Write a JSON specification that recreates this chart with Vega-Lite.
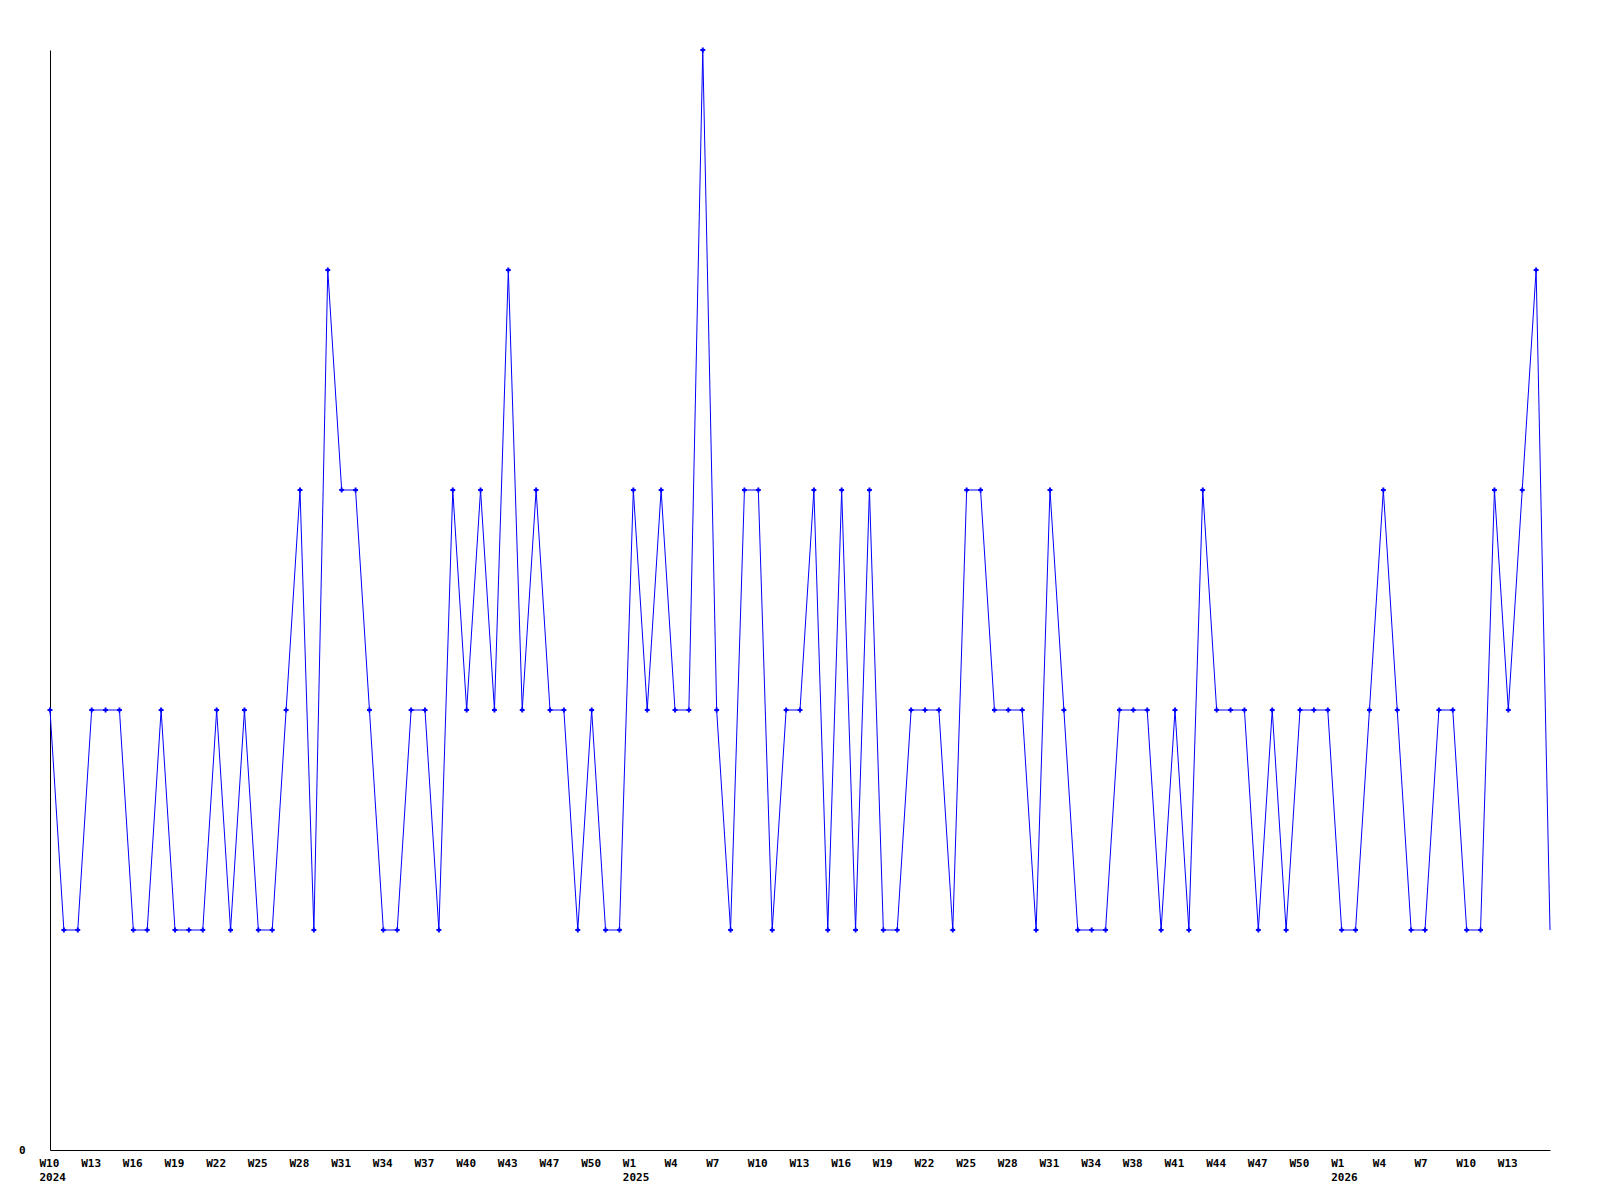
{
  "$schema": "https://vega.github.io/schema/vega-lite/v6.json",
  "width": 1500,
  "height": 1100,
  "autosize": {"type": "none"},
  "padding": {"left": 50, "top": 50, "right": 50, "bottom": 50},
  "background": "white",
  "config": {
    "view": {"stroke": null},
    "axis": {
      "grid": false,
      "ticks": false,
      "tickSize": 0,
      "domainColor": "#000000",
      "domainWidth": 1,
      "labelFont": "DejaVu Sans Mono",
      "labelFontWeight": "bold",
      "labelFontSize": 11,
      "labelColor": "#000000",
      "title": null
    }
  },
  "data": {
    "values": [
      {"week": "2024-W10", "count": 2}, {"week": "2024-W11", "count": 1}, {"week": "2024-W12", "count": 1},
      {"week": "2024-W13", "count": 2}, {"week": "2024-W14", "count": 2}, {"week": "2024-W15", "count": 2},
      {"week": "2024-W16", "count": 1}, {"week": "2024-W17", "count": 1}, {"week": "2024-W18", "count": 2},
      {"week": "2024-W19", "count": 1}, {"week": "2024-W20", "count": 1}, {"week": "2024-W21", "count": 1},
      {"week": "2024-W22", "count": 2}, {"week": "2024-W23", "count": 1}, {"week": "2024-W24", "count": 2},
      {"week": "2024-W25", "count": 1}, {"week": "2024-W26", "count": 1}, {"week": "2024-W27", "count": 2},
      {"week": "2024-W28", "count": 3}, {"week": "2024-W29", "count": 1}, {"week": "2024-W30", "count": 4},
      {"week": "2024-W31", "count": 3}, {"week": "2024-W32", "count": 3}, {"week": "2024-W33", "count": 2},
      {"week": "2024-W34", "count": 1}, {"week": "2024-W35", "count": 1}, {"week": "2024-W36", "count": 2},
      {"week": "2024-W37", "count": 2}, {"week": "2024-W38", "count": 1}, {"week": "2024-W39", "count": 3},
      {"week": "2024-W40", "count": 2}, {"week": "2024-W41", "count": 3}, {"week": "2024-W42", "count": 2},
      {"week": "2024-W43", "count": 4}, {"week": "2024-W44", "count": 2}, {"week": "2024-W45", "count": 3},
      {"week": "2024-W46", "count": 2}, {"week": "2024-W47", "count": 2}, {"week": "2024-W48", "count": 1},
      {"week": "2024-W49", "count": 2}, {"week": "2024-W50", "count": 1}, {"week": "2024-W51", "count": 1},
      {"week": "2024-W52", "count": 3},
      {"week": "2025-W01", "count": 2}, {"week": "2025-W02", "count": 3}, {"week": "2025-W03", "count": 2},
      {"week": "2025-W04", "count": 2}, {"week": "2025-W05", "count": 5}, {"week": "2025-W06", "count": 2},
      {"week": "2025-W07", "count": 1}, {"week": "2025-W08", "count": 3}, {"week": "2025-W09", "count": 3},
      {"week": "2025-W10", "count": 1}, {"week": "2025-W11", "count": 2}, {"week": "2025-W12", "count": 2},
      {"week": "2025-W13", "count": 3}, {"week": "2025-W14", "count": 1}, {"week": "2025-W15", "count": 3},
      {"week": "2025-W16", "count": 1}, {"week": "2025-W17", "count": 3}, {"week": "2025-W18", "count": 1},
      {"week": "2025-W19", "count": 1}, {"week": "2025-W20", "count": 2}, {"week": "2025-W21", "count": 2},
      {"week": "2025-W22", "count": 2}, {"week": "2025-W23", "count": 1}, {"week": "2025-W24", "count": 3},
      {"week": "2025-W25", "count": 3}, {"week": "2025-W26", "count": 2}, {"week": "2025-W27", "count": 2},
      {"week": "2025-W28", "count": 2}, {"week": "2025-W29", "count": 1}, {"week": "2025-W30", "count": 3},
      {"week": "2025-W31", "count": 2}, {"week": "2025-W32", "count": 1}, {"week": "2025-W33", "count": 1},
      {"week": "2025-W34", "count": 1}, {"week": "2025-W35", "count": 2}, {"week": "2025-W36", "count": 2},
      {"week": "2025-W37", "count": 2}, {"week": "2025-W38", "count": 1}, {"week": "2025-W39", "count": 2},
      {"week": "2025-W40", "count": 1}, {"week": "2025-W41", "count": 3}, {"week": "2025-W42", "count": 2},
      {"week": "2025-W43", "count": 2}, {"week": "2025-W44", "count": 2}, {"week": "2025-W45", "count": 1},
      {"week": "2025-W46", "count": 2}, {"week": "2025-W47", "count": 1}, {"week": "2025-W48", "count": 2},
      {"week": "2025-W49", "count": 2}, {"week": "2025-W50", "count": 2}, {"week": "2025-W51", "count": 1},
      {"week": "2025-W52", "count": 1},
      {"week": "2026-W01", "count": 2}, {"week": "2026-W02", "count": 3}, {"week": "2026-W03", "count": 2},
      {"week": "2026-W04", "count": 1}, {"week": "2026-W05", "count": 1}, {"week": "2026-W06", "count": 2},
      {"week": "2026-W07", "count": 2}, {"week": "2026-W08", "count": 1}, {"week": "2026-W09", "count": 1},
      {"week": "2026-W10", "count": 3}, {"week": "2026-W11", "count": 2}, {"week": "2026-W12", "count": 3},
      {"week": "2026-W13", "count": 4}, {"week": "2026-W14", "count": 1}
    ]
  },
  "encoding": {
    "x": {
      "field": "week",
      "type": "ordinal",
      "sort": null,
      "scale": {"type": "point", "padding": 0},
      "axis": {
        "values": ["2024-W10", "2024-W13", "2024-W16", "2024-W19", "2024-W22", "2024-W25", "2024-W28", "2024-W31", "2024-W34", "2024-W37", "2024-W40", "2024-W43", "2024-W46", "2024-W49", "2024-W52", "2025-W03", "2025-W06", "2025-W09", "2025-W12", "2025-W15", "2025-W18", "2025-W21", "2025-W24", "2025-W27", "2025-W30", "2025-W33", "2025-W36", "2025-W39", "2025-W42", "2025-W45", "2025-W48", "2025-W51", "2026-W02", "2026-W05", "2026-W08", "2026-W11"],
        "labelExpr": "{'2024-W10': ['W10', '2024'], '2024-W13': 'W13', '2024-W16': 'W16', '2024-W19': 'W19', '2024-W22': 'W22', '2024-W25': 'W25', '2024-W28': 'W28', '2024-W31': 'W31', '2024-W34': 'W34', '2024-W37': 'W37', '2024-W40': 'W40', '2024-W43': 'W43', '2024-W46': 'W47', '2024-W49': 'W50', '2024-W52': ['W1', '2025'], '2025-W03': 'W4', '2025-W06': 'W7', '2025-W09': 'W10', '2025-W12': 'W13', '2025-W15': 'W16', '2025-W18': 'W19', '2025-W21': 'W22', '2025-W24': 'W25', '2025-W27': 'W28', '2025-W30': 'W31', '2025-W33': 'W34', '2025-W36': 'W38', '2025-W39': 'W41', '2025-W42': 'W44', '2025-W45': 'W47', '2025-W48': 'W50', '2025-W51': ['W1', '2026'], '2026-W02': 'W4', '2026-W05': 'W7', '2026-W08': 'W10', '2026-W11': 'W13'}[datum.value]",
        "labelAlign": "left",
        "labelOffset": -11,
        "labelBaseline": "top",
        "labelPadding": 7,
        "labelLineHeight": 14,
        "labelAngle": 0,
        "labelOverlap": false,
        "labelFlush": false
      }
    },
    "y": {
      "field": "count",
      "type": "quantitative",
      "scale": {"domain": [0, 5], "nice": false, "zero": true},
      "axis": {"values": [0], "labelPadding": 25, "labelBaseline": "middle"}
    }
  },
  "layer": [
    {"mark": {"type": "line", "color": "#0000ff", "strokeWidth": 1, "interpolate": "linear"}},
    {
      "transform": [{"filter": "datum.week != '2026-W14'"}],
      "mark": {"type": "point", "shape": "cross", "filled": true, "color": "#0000ff", "size": 24, "opacity": 1}
    }
  ]
}
